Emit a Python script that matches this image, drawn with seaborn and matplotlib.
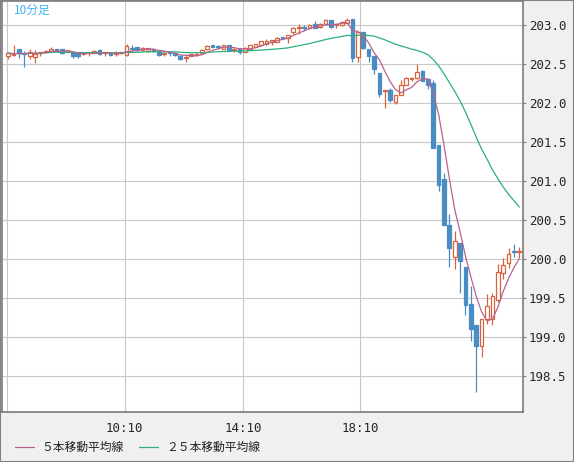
import numpy as np
import pandas as pd
import matplotlib
matplotlib.use("Agg")
import matplotlib.pyplot as plt
from matplotlib.lines import Line2D
from matplotlib.patches import Rectangle
import seaborn as sns

sns.set_style("white")
plt.rcParams['font.family'] = ['Noto Sans CJK JP', 'DejaVu Sans']

# 10-minute candles
opens = [202.61, 202.62, 202.69, 202.64, 202.61, 202.59, 202.64, 202.66, 202.67, 202.69,
         202.69, 202.66, 202.65, 202.64, 202.63, 202.64, 202.66, 202.68, 202.64, 202.64,
         202.63, 202.64, 202.62, 202.70, 202.72, 202.68, 202.67, 202.70, 202.66, 202.63,
         202.65, 202.64, 202.61, 202.58, 202.60, 202.62, 202.64, 202.69, 202.74, 202.73,
         202.70, 202.74, 202.68, 202.70, 202.66, 202.70, 202.72, 202.74, 202.76, 202.79,
         202.79, 202.85, 202.83, 202.91, 202.96, 202.98, 202.96, 203.01, 202.98, 203.01,
         203.06, 203.00, 203.00, 203.03, 203.08, 202.59, 202.91, 202.70, 202.60, 202.39,
         202.16, 202.17, 202.02, 202.10, 202.23, 202.31, 202.32, 202.41, 202.31, 202.26,
         201.46, 201.03, 200.44, 200.03, 200.21, 199.90, 199.43, 199.15, 198.89, 199.23,
         199.23, 199.47, 199.82, 199.95, 200.10, 200.09]
highs = [202.65, 202.74, 202.69, 202.67, 202.70, 202.68, 202.66, 202.68, 202.72, 202.70,
         202.70, 202.68, 202.66, 202.64, 202.65, 202.66, 202.68, 202.69, 202.65, 202.64,
         202.67, 202.66, 202.76, 202.74, 202.72, 202.72, 202.71, 202.71, 202.67, 202.65,
         202.67, 202.65, 202.62, 202.60, 202.63, 202.64, 202.69, 202.75, 202.75, 202.74,
         202.75, 202.75, 202.71, 202.71, 202.72, 202.74, 202.76, 202.80, 202.82, 202.81,
         202.85, 202.85, 202.88, 202.98, 203.01, 203.00, 203.02, 203.05, 203.03, 203.08,
         203.07, 203.02, 203.05, 203.09, 203.08, 202.91, 202.91, 202.70, 202.60, 202.39,
         202.16, 202.19, 202.10, 202.30, 202.34, 202.34, 202.50, 202.43, 202.31, 202.30,
         201.46, 201.10, 200.58, 200.36, 200.21, 199.90, 199.65, 199.15, 199.23, 199.55,
         199.56, 199.94, 200.02, 200.14, 200.19, 200.16]
lows = [202.56, 202.60, 202.58, 202.47, 202.57, 202.52, 202.61, 202.65, 202.67, 202.66,
        202.63, 202.65, 202.58, 202.58, 202.62, 202.60, 202.65, 202.62, 202.60, 202.61,
        202.61, 202.63, 202.61, 202.66, 202.67, 202.67, 202.66, 202.66, 202.61, 202.61,
        202.60, 202.61, 202.55, 202.53, 202.60, 202.61, 202.63, 202.69, 202.72, 202.70,
        202.70, 202.68, 202.66, 202.63, 202.65, 202.70, 202.72, 202.74, 202.75, 202.74,
        202.78, 202.82, 202.77, 202.89, 202.89, 202.94, 202.95, 202.97, 202.97, 203.01,
        202.97, 202.97, 202.99, 203.03, 202.53, 202.53, 202.70, 202.53, 202.38, 202.08,
        201.94, 202.01, 201.99, 202.10, 202.23, 202.29, 202.31, 202.29, 202.18, 201.42,
        200.87, 200.44, 199.90, 199.88, 199.56, 199.28, 198.95, 198.30, 198.74, 199.17,
        199.15, 199.45, 199.75, 199.89, 200.03, 200.01]
closes = [202.64, 202.63, 202.64, 202.63, 202.66, 202.63, 202.66, 202.67, 202.70, 202.67,
          202.64, 202.68, 202.61, 202.61, 202.64, 202.65, 202.67, 202.63, 202.65, 202.62,
          202.64, 202.65, 202.73, 202.69, 202.68, 202.71, 202.70, 202.67, 202.62, 202.64,
          202.64, 202.62, 202.57, 202.59, 202.63, 202.63, 202.68, 202.73, 202.72, 202.72,
          202.74, 202.68, 202.70, 202.65, 202.71, 202.74, 202.76, 202.80, 202.80, 202.81,
          202.84, 202.84, 202.87, 202.97, 202.98, 202.97, 203.00, 202.97, 203.02, 203.07,
          202.98, 203.01, 203.04, 203.06, 202.58, 202.91, 202.71, 202.61, 202.44, 202.12,
          202.17, 202.04, 202.10, 202.23, 202.32, 202.32, 202.40, 202.29, 202.23, 201.43,
          200.95, 200.44, 200.14, 200.23, 199.98, 199.41, 199.11, 198.89, 199.23, 199.40,
          199.53, 199.84, 199.92, 200.07, 200.09, 200.10]

y_ticks = [198.5, 199.0, 199.5, 200.0, 200.5, 201.0, 201.5, 202.0, 202.5, 203.0]
x_tick_labels = ['', '10:10', '14:10', '18:10']
x_tick_pos = [-0.13, 21.67, 43.66, 65.46]
chart_title = '10分足'
legend_labels = ['５本移動平均線', '２５本移動平均線']

up_color = '#d9623f'
down_color = '#4a8cc4'
ma5_color = '#b8628e'
ma25_color = '#2bb07a'

df = pd.DataFrame({'bar': np.arange(len(closes)), 'open': opens, 'high': highs,
                   'low': lows, 'close': closes})
df['ma5'] = df['close'].rolling(5, min_periods=1).mean()
df['ma25'] = df['close'].rolling(25, min_periods=1).mean()
df['up'] = df['close'] >= df['open']

W, H = 574, 462
fig = plt.figure(figsize=(W / 100, H / 100), dpi=100, facecolor='#f0f0f0')
ax = fig.add_axes([1.5 / W, (H - 412) / H, (523.3 - 1.5) / W, (412 - 1) / H])
ax.set_facecolor('white')

colors = np.where(df['up'], up_color, down_color)
faces = np.where(df['up'], 'white', down_color)
bottoms = df[['open', 'close']].min(axis=1)
heights = (df['close'] - df['open']).abs().clip(lower=0.012)

# candles: wicks first, bodies on top
ax.vlines(df['bar'], df['low'], df['high'], colors=colors, lw=0.9, zorder=2)
ax.bar(df['bar'], heights, bottom=bottoms, width=0.68, color=faces,
       edgecolor=colors, linewidth=0.9, zorder=3)

# moving averages
sns.lineplot(data=df, x='bar', y='ma25', color=ma25_color, lw=0.9, ax=ax, zorder=4, legend=False)
sns.lineplot(data=df, x='bar', y='ma5', color=ma5_color, lw=0.9, ax=ax, zorder=5, legend=False)

ax.set_xlim(-1.24, 95.75)
ax.set_ylim(198.04, 203.31)
ax.set_xlabel('')
ax.set_ylabel('')

ax.yaxis.tick_right()
ax.set_yticks(y_ticks)
ax.set_yticklabels([f'{v:.1f}' for v in y_ticks])
ax.set_xticks(x_tick_pos)
ax.set_xticklabels(x_tick_labels)
for lbl in ax.get_yticklabels() + ax.get_xticklabels():
    lbl.set_fontfamily('DejaVu Sans Mono')
ax.tick_params(axis='y', length=2.5, width=0.8, color='#808080', pad=1.5, labelsize=9)
ax.tick_params(axis='x', length=0, pad=7, labelsize=9)

ax.grid(True, color='#c8c8c8', lw=0.8)
ax.set_axisbelow(True)
for s in ax.spines.values():
    s.set_visible(True)
    s.set_color('#7a7a7a')
    s.set_linewidth(1.2)

# title and legend
fig.text(14 / W, 1 - 10 / H, chart_title, color='#3cb4f0', fontsize=8.5, va='center', ha='left')
ly = 1 - 447 / H
fig.add_artist(Line2D([15 / W, 34 / W], [ly, ly], color=ma5_color, lw=0.9, transform=fig.transFigure))
fig.text(41 / W, ly, legend_labels[0], color='#222222', fontsize=8.5, va='center', ha='left')
fig.add_artist(Line2D([139 / W, 158 / W], [ly, ly], color=ma25_color, lw=0.9, transform=fig.transFigure))
fig.text(166 / W, ly, legend_labels[1], color='#222222', fontsize=8.5, va='center', ha='left')

fig.add_artist(Rectangle((0, 0), 1, 1, transform=fig.transFigure, fill=False,
                         edgecolor='#808080', lw=1.5))

fig.savefig('out.png', dpi=100, facecolor=fig.get_facecolor())
